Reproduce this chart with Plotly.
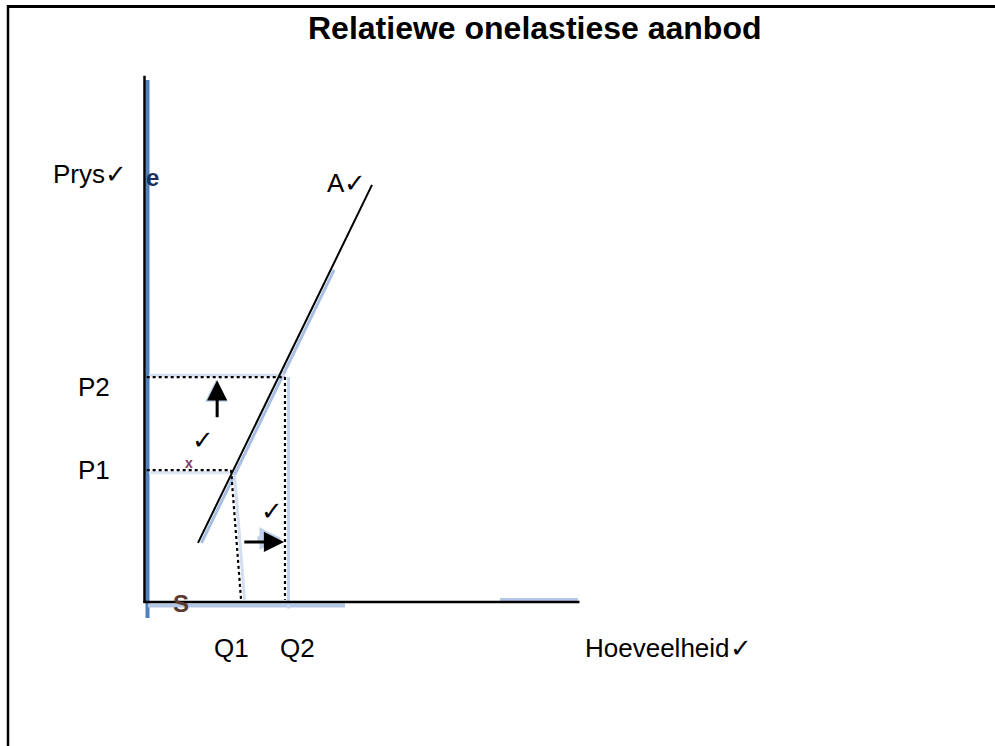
import plotly.graph_objects as go

# ---------------- data (economic units: quantity, price) ----------------
axis_q = [0.0, 10.0]            # quantity axis extent
axis_p = [0.0, 12.1]            # price axis extent
supply_q = [1.23, 5.23]         # supply curve A
supply_p = [1.36, 9.59]
price_levels = [3.03, 5.17]     # P1, P2
price_labels = ["P1", "P2"]
qty_top = [1.99, 3.23]          # where the quantity lines meet the price lines
qty_foot = [2.22, 3.23]         # foot of the quantity lines
qty_labels = ["Q1", "Q2"]
up_arrow_q = [1.67, 1.67]       # tail, head
up_arrow_p = [4.21, 5.10]
right_arrow_q = [2.26, 3.21]
right_arrow_p = [1.38, 1.38]
check_q = [1.34, 2.93]
check_p = [3.72, 2.09]

TITLE = "Relatiewe onelastiese aanbod"
Y_TITLE = "Prys\u2713"
X_TITLE = "Hoeveelheid\u2713"
CURVE_LABEL = "A\u2713"
CHECK = "\u2713"

# ---------------- scale: data -> page ----------------
W, H = 995, 746
OX, OY, S = 144.5, 602.0, 43.5   # origin pixel and pixels per unit


def qx(px):
    return (px - OX) / S


def py(pix):
    return (OY - pix) / S


FONT = "Liberation Sans, Arial, sans-serif"
BLUE = "#4f81bd"
LBLUE = "#b4c7e7"

fig = go.Figure()


def line(q, p, color="black", width=2, dash=None):
    fig.add_trace(go.Scatter(x=q, y=p, mode="lines", hoverinfo="skip",
                             line=dict(color=color, width=width, dash=dash),
                             showlegend=False))


# light-blue shadows
line([qx(147.5)] * 2, [axis_p[1] - 0.1, py(618)], color=BLUE, width=4)
line([axis_q[0] + 0.08, qx(345)], [py(605.5)] * 2, color=LBLUE, width=4)
line([qx(500), qx(578)], [py(600.5)] * 2, color=LBLUE, width=5)
sh = 3.5 / S
slope = (supply_p[1] - supply_p[0]) / (supply_q[1] - supply_q[0])
line([supply_q[0] + sh, supply_q[1] - 0.95 + sh],
     [supply_p[0], supply_p[0] + (supply_q[1] - 0.95 - supply_q[0]) * slope],
     color="#a8bfe3", width=3)
line([qty_top[1] + sh, qty_foot[1] + sh], [price_levels[1], -0.15], color="#c3d3ec", width=3)
line([qty_top[0] + sh, qty_foot[0] + sh], [price_levels[0] - 0.1, 0.05], color="#d3def0", width=3)
line([0.1, qty_top[1]], [price_levels[1] + 0.04] * 2, color="#d3def0", width=3)
line([0.1, qty_top[0]], [price_levels[0] - 0.06] * 2, color="#dde6f4", width=3)

# axes
line([axis_q[0], axis_q[0]], [axis_p[0], axis_p[1]], width=2.5)
line([axis_q[0] - 0.03, axis_q[1]], [axis_p[0], axis_p[0]], width=2.5)

# supply curve
line(supply_q, supply_p, width=2)

# dotted guide lines
for pl, qt, qf in zip(price_levels, qty_top, qty_foot):
    line([axis_q[0] + 0.05, qt], [pl, pl], width=2.2, dash="dot")
    line([qt, qf], [pl, 0.05], width=2.2, dash="dot")

annotations = []

# arrow shadows (blue)
annotations.append(dict(x=up_arrow_q[1] - 0.02, y=up_arrow_p[1] + 0.02, ax=up_arrow_q[1] - 0.02,
                        ay=up_arrow_p[1] - 0.45, xref="x", yref="y", axref="x", ayref="y",
                        text="", showarrow=True, arrowhead=2, arrowsize=1.0, arrowwidth=4.5,
                        arrowcolor="#c0d0ea"))
annotations.append(dict(x=right_arrow_q[1] - 0.05, y=right_arrow_p[1] + 0.08, ax=right_arrow_q[1] - 0.65,
                        ay=right_arrow_p[1] + 0.08, xref="x", yref="y", axref="x", ayref="y",
                        text="", showarrow=True, arrowhead=2, arrowsize=1.0, arrowwidth=4.5,
                        arrowcolor="#c0d0ea"))
# arrows
for aq, ap in ((up_arrow_q, up_arrow_p), (right_arrow_q, right_arrow_p)):
    annotations.append(dict(x=aq[1], y=ap[1], ax=aq[0], ay=ap[0], xref="x", yref="y",
                            axref="x", ayref="y", text="", showarrow=True, arrowhead=2,
                            arrowsize=1.35, arrowwidth=3, arrowcolor="black"))

# check marks
for cq, cp in zip(check_q, check_p):
    annotations.append(dict(x=cq, y=cp, xref="x", yref="y", text=CHECK, showarrow=False,
                            font=dict(family="DejaVu Sans", size=26, color="black")))


# labels
def label(text, x_px, y_px, size=26, anchor="left", bold=False, color="black", family=FONT):
    annotations.append(dict(x=qx(x_px), y=py(y_px), xref="x", yref="y",
                            text=f"<b>{text}</b>" if bold else text, showarrow=False,
                            xanchor=anchor, yanchor="middle",
                            font=dict(family=family, size=size, color=color)))


label(TITLE, 535, 28, size=32, anchor="center", bold=True)
label(Y_TITLE, 51, 174)
label(CURVE_LABEL, 325, 183)
label(X_TITLE, 583, 648)
for txt, pl in zip(price_labels, price_levels):
    annotations.append(dict(x=qx(76), y=pl, xref="x", yref="y", text=txt, showarrow=False,
                            xanchor="left", yanchor="middle", yshift=-10 if txt == "P2" else 0,
                            font=dict(family=FONT, size=26, color="black")))
for txt, xp in zip(qty_labels, (231, 297)):
    label(txt, xp, 648, anchor="center")

# stray glyph fragments visible in the original
label("e", 152, 177, size=24, anchor="center", bold=True, color="#1f2f5a")
label("S", 181, 603, size=24, anchor="center", bold=True, color="#5b3b2e")
label("x", 189, 463, size=14, anchor="center", bold=True, color="#7a3c6a")

fig.update_layout(
    width=W, height=H, margin=dict(l=0, r=0, t=0, b=0),
    paper_bgcolor="white", plot_bgcolor="white",
    xaxis=dict(range=[qx(0), qx(W)], visible=False, fixedrange=True),
    yaxis=dict(range=[py(H), py(0)], visible=False, fixedrange=True),
    annotations=annotations,
    shapes=[
        dict(type="line", xref="paper", yref="paper", x0=7 / W, x1=1.0, y0=1 - 6.5 / H, y1=1 - 6.5 / H,
             line=dict(color="black", width=3)),
        dict(type="line", xref="paper", yref="paper", x0=8 / W, x1=8 / W, y0=0, y1=1 - 5 / H,
             line=dict(color="black", width=2.5)),
    ],
)

fig.write_html("out.html", config={"displayModeBar": False},
               post_script="document.body.style.margin='0';document.body.style.overflow='hidden';")
